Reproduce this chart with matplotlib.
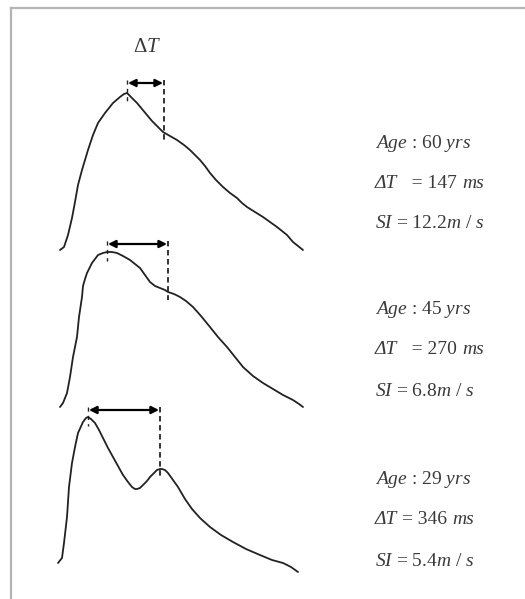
import matplotlib.pyplot as plt

# pulse waveforms (pixel coordinates, y pointing down)
wave1_x = [60, 64, 68, 72, 75, 78, 82, 85, 88, 93, 98, 105, 113, 120, 124, 127,
           132, 137, 142, 147, 152, 157, 163, 170, 177, 184, 190, 195, 200, 205, 210,
           216, 223, 230, 237, 242, 247, 255, 263, 270, 277, 282, 287, 293, 298, 303]
wave1_y = [250, 247, 235, 218, 202, 185, 170, 160, 150, 135, 123, 113, 103, 97, 94, 93,
           98, 103, 109, 115, 121, 126, 132, 136, 140, 145, 150, 155, 160, 166, 173,
           180, 187, 193, 198, 203, 207, 212, 217, 222, 227, 231, 235, 242, 246, 250]

wave2_x = [60, 63, 67, 70, 73, 77, 79, 82, 83, 85, 87, 92, 98, 103, 107, 112, 117, 123, 130,
           135, 140, 145, 150, 155, 160, 165, 168, 174, 180, 186, 193, 201, 210, 218, 227,
           235, 243, 253, 263, 273, 283, 293, 299, 303]
wave2_y = [407, 403, 393, 377, 357, 337, 317, 297, 286, 279, 273, 263, 255, 253, 252, 252, 253, 256, 260,
           264, 268, 275, 282, 286, 288, 290, 292, 294, 297, 301, 307, 316, 327, 337, 347,
           357, 367, 376, 383, 389, 395, 400, 404, 407]

wave3_x = [58, 62, 64, 67, 69, 72, 75, 78, 83, 86, 88, 91, 95, 99, 103, 108, 113, 118, 123,
           128, 132, 135, 137, 140, 143, 147, 150, 154, 157, 160, 162, 165, 168, 173, 178,
           185, 192, 200, 210, 221, 233, 246, 260, 272, 283, 291, 298]
wave3_y = [563, 558, 543, 517, 487, 463, 447, 433, 422, 418, 417, 419, 423, 430, 438, 448, 457, 466, 475,
           482, 487, 489, 489, 488, 485, 481, 477, 473, 470, 469, 469, 470, 473, 480, 487,
           499, 509, 518, 527, 535, 542, 549, 555, 560, 563, 567, 572]

# peak and notch positions used for the delta-T markers
peak_x = [127, 107, 88]
peak_y = [93, 252, 417]
notch_x = [164, 168, 160]
notch_y = [132, 292, 469]

ages = [60, 45, 29]
delta_t = [147, 270, 346]
stiffness = ["12.2", "6.8", "5.4"]

plt.rcParams['mathtext.fontset'] = 'custom'
plt.rcParams['mathtext.rm'] = 'Liberation Serif'
plt.rcParams['mathtext.it'] = 'Liberation Serif:italic'
plt.rcParams['font.family'] = 'Liberation Serif'

fig = plt.figure(figsize=(5.25, 5.99), dpi=100)
ax = fig.add_axes([0, 0, 1, 1])
ax.set_xlim(0, 525)
ax.set_ylim(599, 0)
ax.axis('off')

# frame (only top and left edges visible)
ax.plot([10.5, 525], [8, 8], color='#b4b4b4', lw=1.6)
ax.plot([10.5, 10.5], [8, 599], color='#b4b4b4', lw=1.6)

line_col = '#222222'
for wx, wy in [(wave1_x, wave1_y), (wave2_x, wave2_y), (wave3_x, wave3_y)]:
    ax.plot(wx, wy, color=line_col, lw=1.3, solid_capstyle='round', solid_joinstyle='round')

text_col = '#3a3a3a'
arrow_off = [10, 8, 7]
for i in range(3):
    top = peak_y[i] - arrow_off[i] - 3
    ay = peak_y[i] - arrow_off[i]
    ax.plot([peak_x[i], peak_x[i]], [top, peak_y[i] + 9], color=line_col, lw=1.0,
            linestyle=(0, (3, 3)))
    ax.plot([notch_x[i], notch_x[i]], [top, notch_y[i] + 8], color=line_col, lw=1.3,
            linestyle=(0, (3, 2)))
    ax.annotate('', xy=(notch_x[i] - 1, ay), xytext=(peak_x[i] + 1, ay),
                arrowprops=dict(arrowstyle='<|-|>', color='black', lw=1.6,
                                mutation_scale=11, shrinkA=0, shrinkB=0))

ax.text(147, 47, r'$\mathrm{\Delta}T$', fontsize=15, color=text_col, ha='center', va='center')


def chain_text(x, y, pieces):
    # pieces: list of (string, style); each starts where the previous one ended
    prev = ax.text(x, y, pieces[0][0], style=pieces[0][1], fontsize=14, color=text_col,
                   va='center')
    for s, st in pieces[1:]:
        prev = ax.annotate(s, xy=(1, 0), xycoords=prev, va='bottom', ha='left',
                           style=st, fontsize=14, color=text_col)
    return prev


label_y = [143, 310, 480]
gaps = ['   ', '   ', ' ']
for i in range(3):
    y0 = label_y[i]
    ax.text(375, y0, r'$Age$ : %d $yrs$' % ages[i], fontsize=14, color=text_col, va='center')
    chain_text(375, y0 + 40, [('ΔT', 'italic'),
                              ('%s= %d ' % (gaps[i], delta_t[i]), 'normal'),
                              ('ms', 'italic')])
    ax.text(375, y0 + 81, r'$SI$ = %s$m$ / $s$' % stiffness[i], fontsize=14, color=text_col,
            va='center')

fig.savefig('out.png', dpi=100, facecolor='white')
